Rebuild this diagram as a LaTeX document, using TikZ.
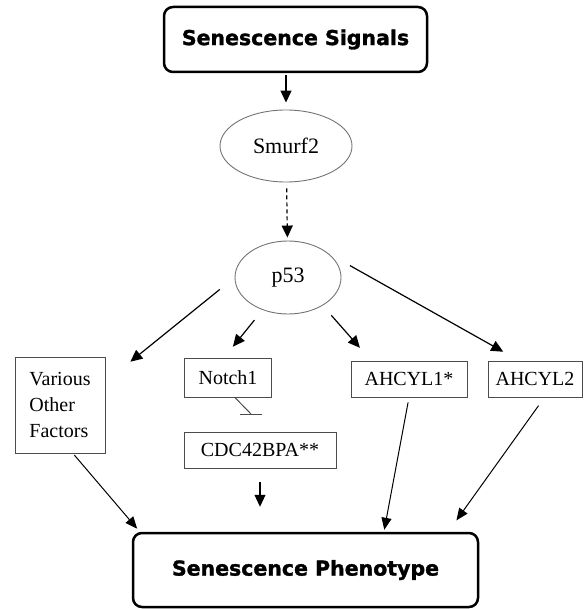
\documentclass[tikz,border=0pt]{standalone}
\usepackage{fontspec}
\setmainfont{Liberation Serif}
\newfontfamily\headfont{DejaVu Sans}[BoldFeatures={FakeBold=1.5}]
\usetikzlibrary{shapes.geometric}
\usetikzlibrary{arrows.meta}
\tikzset{
	headstyle/.style={rectangle,rounded corners=9pt,draw=black,line width=2.5pt,inner sep=0pt,font=\headfont\bfseries\fontsize{20.5}{24}\selectfont},
	ovalstyle/.style={ellipse,draw=black!55,line width=0.9pt,inner sep=0pt,font=\fontsize{22}{26}\selectfont},
	boxstyle/.style={rectangle,draw=black!70,line width=0.9pt,inner sep=0pt,font=\fontsize{20}{26}\selectfont},
	arrowstyle/.style={-{Triangle[length=12pt,width=11pt]},line width=1.2pt},
	thinarrow/.style={-{Triangle[length=12pt,width=10pt]},line width=1pt}
}
\begin{document}
\begin{tikzpicture}[x=1pt,y=-1pt]
	\useasboundingbox (0,0) rectangle (584,609);
	\node[headstyle,minimum width=263pt,minimum height=65pt] (signals) at (295.5,39.5) {Senescence Signals};
	\node[ovalstyle,minimum width=132pt,minimum height=72pt] (smurf) at (286,146) {Smurf2};
	\node[ovalstyle,minimum width=106pt,minimum height=73pt] (p53) at (288,277.5) {p53};
	\node[boxstyle,minimum width=90pt,minimum height=96pt,align=left] (various) at (60,405) {Various\\Other\\Factors};
	\node[boxstyle,minimum width=87pt,minimum height=39pt] (notch) at (228,377.5) {Notch1};
	\node[boxstyle,minimum width=152pt,minimum height=36pt] (cdc) at (260,450) {CDC42BPA**};
	\node[boxstyle,minimum width=116pt,minimum height=36pt] (ahcyl1) at (409,379) {AHCYL1*};
	\node[boxstyle,minimum width=94pt,minimum height=36pt] (ahcyl2) at (535,379) {AHCYL2};
	\node[headstyle,minimum width=345pt,minimum height=74pt] (pheno) at (305.5,570) {Senescence Phenotype};
	\coordinate (block) at (251,414);

	\draw[arrowstyle,shorten <=2pt,shorten >=7pt] (smurf |- signals.south) -- (smurf);
	\draw[arrowstyle,dash pattern=on 4pt off 3pt,shorten <=6pt,shorten >=3pt] (smurf) -- (p53);
	\draw[arrowstyle,shorten <=19pt,shorten >=32pt] (p53.west) -- (various.27);
	\draw[arrowstyle,shorten <=13pt,shorten >=14pt] (p53.232.6) -- (notch.101.6);
	\draw[arrowstyle,shorten <=13pt,shorten >=17pt] (p53.321.2) -- (ahcyl1.154.4);
	\draw[arrowstyle,shorten <=24pt,shorten >=18pt] (p53.30) -- (ahcyl2.131);
	\draw[black!70,line width=1pt] (notch.289) -- (block);
	\draw[black!70,line width=1pt] ([xshift=-11pt]block) -- ([xshift=11pt]block);
	\draw[arrowstyle,shorten <=14pt,shorten >=25pt] (cdc) -- (cdc |- pheno.north);
	\draw[thinarrow,shorten <=2pt,shorten >=4pt] (various.285) -- (pheno.167);
	\draw[thinarrow,shorten <=5pt,shorten >=2pt] (ahcyl1.270) -- (pheno.26.6);
	\draw[thinarrow,shorten <=10pt,shorten >=14pt] (ahcyl2.297) -- (pheno.15.5);
\end{tikzpicture}
\end{document}
